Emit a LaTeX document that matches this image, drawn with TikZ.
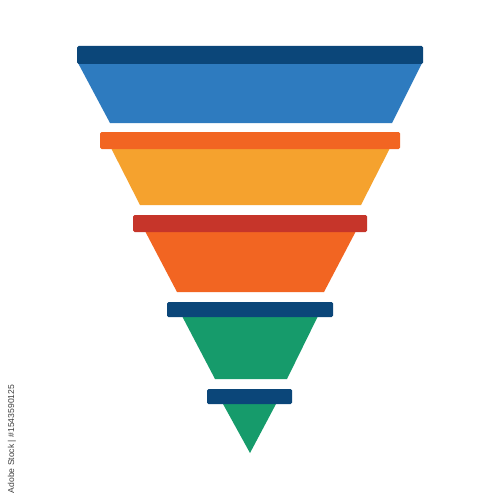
\documentclass[tikz,border=0pt]{standalone}
\usepackage{fontspec}
\setmainfont{Liberation Sans}
\definecolor{dblue}{HTML}{0B4679}
\definecolor{mblue}{HTML}{2E7BBF}
\definecolor{orng}{HTML}{F26522}
\definecolor{yorng}{HTML}{F5A22E}
\definecolor{rred}{HTML}{C6352A}
\definecolor{grn}{HTML}{169B6B}
\tikzset{
  barbox/.style={rounded corners=1.5pt},
}
\begin{document}
\begin{tikzpicture}[x=1pt,y=-1pt]
\useasboundingbox (0,0) rectangle (500,500);
\fill[white] (0,0) rectangle (500,500);
% segment 1
\fill[mblue] (78,63) -- (422,63) -- (392,123) -- (110,123) -- cycle;
\fill[dblue,barbox] (77,46) rectangle (423,64);
% segment 2
\fill[yorng] (111,148) -- (390,148) -- (361,205) -- (140,205) -- cycle;
\fill[orng,barbox] (100,132) rectangle (400,149);
% segment 3
\fill[orng] (145,231) -- (356,231) -- (324,292) -- (177,292) -- cycle;
\fill[rred,barbox] (133,215) rectangle (367,232);
% segment 4
\fill[grn] (182,316) -- (318,316) -- (287,379) -- (215,379) -- cycle;
\fill[dblue,barbox] (167,302) rectangle (333,317);
% segment 5
\fill[grn] (223,404) -- (276,404) -- (250,453) -- cycle;
\fill[dblue,barbox] (207,389) rectangle (292,404);
% credit
\node[rotate=90,font=\fontsize{8.6}{9}\selectfont,text=black!75,inner sep=0pt] (credit) at (12,439) {Adobe Stock | \#1543590125};
\end{tikzpicture}
\end{document}
